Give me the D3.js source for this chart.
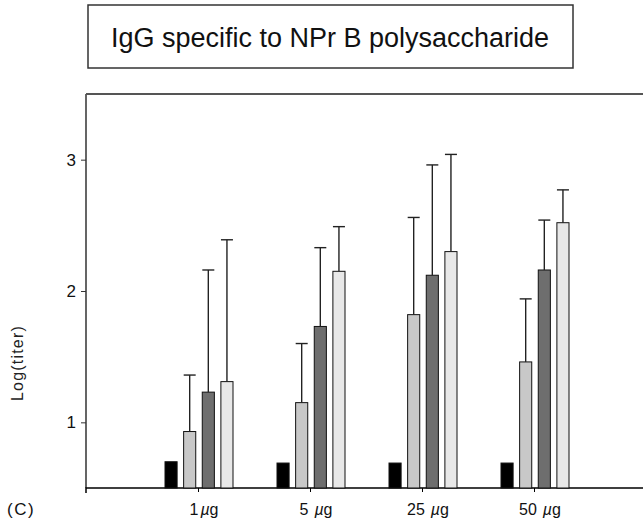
<!DOCTYPE html>
<html>
<head>
<meta charset="utf-8">
<script src="https://cdn.jsdelivr.net/npm/d3@7"></script>
<style>
  html, body { margin: 0; padding: 0; background: #fff; overflow: hidden; }
  svg { display: block; }
  svg text { font-family: "Liberation Sans", Arial, sans-serif; }
</style>
</head>
<body>
<div class="chart"></div>
<script>
const width = 643
const height = 523
const margin = { top: 94, right: 0, bottom: 35, left: 86 }
const innerWidth = 557
const innerHeight = height - margin.top - margin.bottom

const title = "IgG specific to NPr B polysaccharide"
const doses = ["1", "5", "25", "50"]
const series = ["control", "s1", "s2", "s3"]
const yTicks = [1, 2, 3]

// mean log titer per dose, one array per series
const controlMean = [0.70, 0.69, 0.69, 0.69]
const s1Mean = [0.93, 1.15, 1.82, 1.46]
const s2Mean = [1.23, 1.73, 2.12, 2.16]
const s3Mean = [1.31, 2.15, 2.30, 2.52]
// upper end of error bar
const s1Upper = [1.36, 1.60, 2.56, 1.94]
const s2Upper = [2.16, 2.33, 2.96, 2.54]
const s3Upper = [2.39, 2.49, 3.04, 2.77]

const colors = { control: "#000", s1: "#c8c8c8", s2: "#6e6e6e", s3: "#e8e8e8" }

const rows = []
doses.forEach((d, i) => {
    rows.push({ dose: d, s: "control", mean: controlMean[i], upper: null })
    rows.push({ dose: d, s: "s1", mean: s1Mean[i], upper: s1Upper[i] })
    rows.push({ dose: d, s: "s2", mean: s2Mean[i], upper: s2Upper[i] })
    rows.push({ dose: d, s: "s3", mean: s3Mean[i], upper: s3Upper[i] })
})

const root = d3.select(".chart")
    .append("svg")
    .attr("width", width)
    .attr("height", height)

// title box
root.append("rect")
    .attr("x", 88).attr("y", 5)
    .attr("width", 485).attr("height", 63)
    .attr("fill", "none")
    .attr("stroke", "#333")
    .attr("stroke-width", 1.5)

root.append("text")
    .attr("x", 330).attr("y", 47)
    .attr("text-anchor", "middle")
    .attr("font-size", 27)
    .attr("fill", "#111")
    .text(title)

const svg = root.append("g")
    .attr("transform", "translate(" + margin.left + "," + margin.top + ")")

// 5 slots wide; the fifth runs a little past the page edge
const xScale = d3.scalePoint()
    .domain(doses)
    .range([0, 560])
    .padding(1)

const offset = d3.scaleBand()
    .domain(series)
    .range([-33, 35])
    .paddingInner(0.35)

const yScale = d3.scaleLinear()
    .domain([0.5, 3.5])
    .range([innerHeight, 0])

// frame top
svg.append("line")
    .attr("x1", 0).attr("x2", innerWidth)
    .attr("y1", 0).attr("y2", 0)
    .attr("stroke", "#555").attr("stroke-width", 2)

const yAxis = d3.axisLeft(yScale)
    .tickValues(yTicks)
    .tickSize(5)

svg.append("g")
    .attr("class", "y-axis")
    .call(yAxis)
    .call(g => g.selectAll(".tick text").remove())
    .call(g => g.select(".domain").attr("stroke", "#555").attr("stroke-width", 1.8)
        .attr("d", "M0," + innerHeight + "V0"))
    .call(g => g.selectAll("line").attr("stroke", "#333"))

svg.selectAll(".ylab")
    .data(yTicks)
    .join("text")
    .attr("class", "ylab")
    .attr("x", -10)
    .attr("y", d => yScale(d))
    .attr("dy", "0.36em")
    .attr("text-anchor", "end")
    .attr("font-size", 17)
    .attr("fill", "#111")
    .text(d => d)

const xAxis = d3.axisBottom(xScale)
    .tickSize(4)

svg.append("g")
    .attr("class", "x-axis")
    .attr("transform", "translate(0," + innerHeight + ")")
    .call(xAxis)
    .call(g => g.selectAll(".tick text").remove())
    .call(g => g.select(".domain").attr("stroke", "#000").attr("stroke-width", 1.5)
        .attr("d", "M0,5V0H" + innerWidth))

// dose labels with italic mu
svg.selectAll(".dose-label")
    .data(doses)
    .join("text")
    .attr("class", "dose-label")
    .attr("x", d => xScale(d) + 6)
    .attr("y", innerHeight + 27)
    .attr("text-anchor", "middle")
    .attr("fill", "#111")
    .attr("font-size", 16)
    .each(function(d) {
        const t = d3.select(this)
        t.append("tspan").text(d)
        t.append("tspan").attr("dx", d === "1" ? 2 : 6).attr("font-style", "italic").text("\u00b5")
        t.append("tspan").text("g")
    })

// bars
svg.selectAll(".bar")
    .data(rows)
    .join("rect")
    .attr("class", "bar")
    .attr("x", d => xScale(d.dose) + offset(d.s))
    .attr("width", offset.bandwidth())
    .attr("y", d => yScale(d.mean))
    .attr("height", d => innerHeight - yScale(d.mean))
    .attr("fill", d => colors[d.s])
    .attr("stroke", "#111")
    .attr("stroke-width", 1)

// error bars (upper only)
const errs = rows.filter(d => d.upper !== null)
const cx = d => xScale(d.dose) + offset(d.s) + offset.bandwidth() / 2

svg.selectAll(".err")
    .data(errs)
    .join("line")
    .attr("class", "err")
    .attr("x1", cx)
    .attr("x2", cx)
    .attr("y1", d => yScale(d.mean))
    .attr("y2", d => yScale(d.upper))
    .attr("stroke", "#222")
    .attr("stroke-width", 1.4)

svg.selectAll(".cap")
    .data(errs)
    .join("line")
    .attr("class", "cap")
    .attr("x1", d => cx(d) - 6)
    .attr("x2", d => cx(d) + 6)
    .attr("y1", d => yScale(d.upper))
    .attr("y2", d => yScale(d.upper))
    .attr("stroke", "#222")
    .attr("stroke-width", 1.4)

// y label
root.append("text")
    .attr("transform", "translate(23,363) rotate(-90)")
    .attr("text-anchor", "middle")
    .attr("font-size", 16)
    .attr("letter-spacing", 1.2)
    .attr("fill", "#222")
    .text("Log(titer)")

root.append("text")
    .attr("x", 7).attr("y", 515)
    .attr("font-size", 17)
    .attr("letter-spacing", 1.5)
    .attr("fill", "#111")
    .text("(C)")
</script>
</body>
</html>
